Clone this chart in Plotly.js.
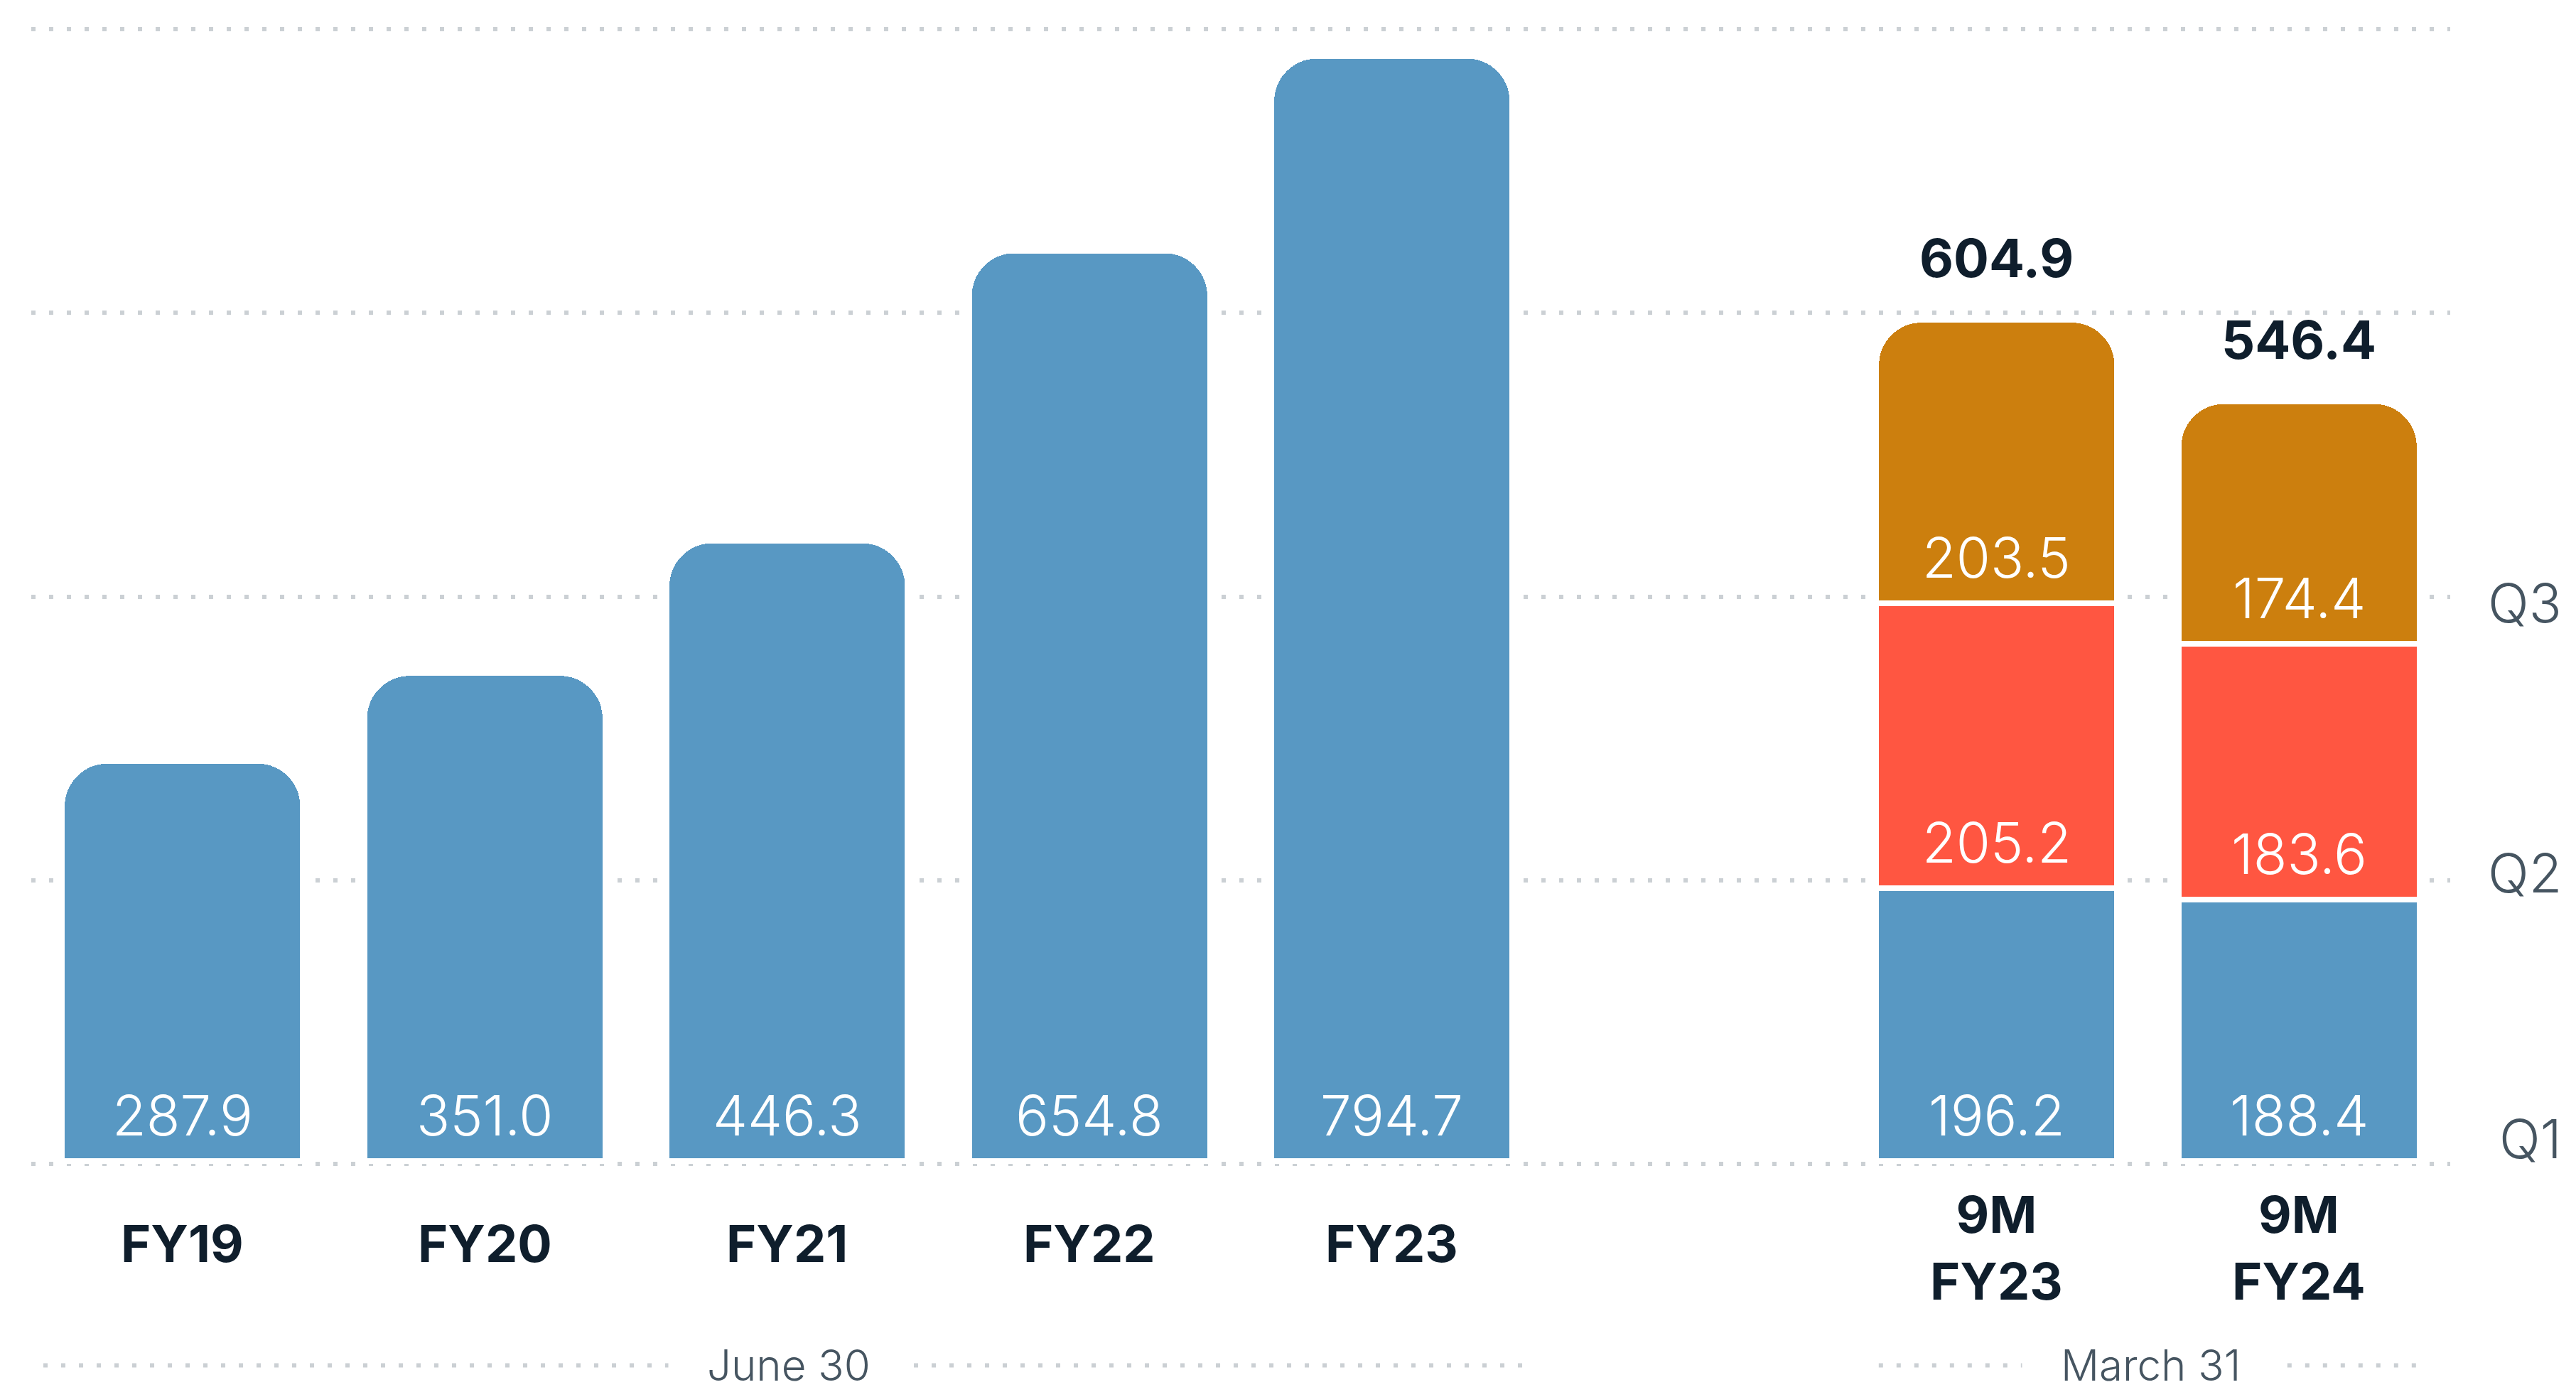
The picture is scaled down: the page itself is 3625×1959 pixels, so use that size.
<!DOCTYPE html>
<html>
<head>
<meta charset="utf-8">
<script src="https://cdn.plot.ly/plotly-3.0.1.min.js"></script>
<style>
  html, body { margin: 0; padding: 0; background: #ffffff; }
  #chart { width: 3625px; height: 1959px; }
</style>
</head>
<body>
<div id="chart"></div>
<script>
// ---------------- data ----------------
const fullYearCategories = ['FY19', 'FY20', 'FY21', 'FY22', 'FY23'];
const fullYearRevenue = [287.9, 351.0, 446.3, 654.8, 794.7];

const nineMonthCategories = ['9M FY23', '9M FY24'];
const nineMonthTickLabels = ['9M<br>FY23', '9M<br>FY24'];
const q1Revenue = [196.2, 188.4];
const q2Revenue = [205.2, 183.6];
const q3Revenue = [203.5, 174.4];

const quarterNames = ['Q1', 'Q2', 'Q3'];
const groupLabels = ['June 30', 'March 31'];

// ---------------- style ----------------
const BLUE = '#5898C3';
const RED = '#FF5641';
const ORANGE = '#CC7F0E';
const DARK = '#0F1E2C';
const GREY_TEXT = '#465561';
const DOT = '#CBD0D4';
const FONT = 'Inter, "Open Sans", sans-serif';

const SPACER = '\u00A0';
const categoryOrder = [...fullYearCategories, SPACER, ...nineMonthCategories];
const idx = c => categoryOrder.indexOf(c);

const BAR_W = 0.797;
const SEP = 8;

function barTrace(x, y, color) {
  return {
    type: 'bar',
    x: x,
    y: y,
    width: BAR_W,
    marker: { color: color, line: { color: '#ffffff', width: SEP } },
    hoverinfo: 'skip',
    cliponaxis: false
  };
}

const traces = [
  barTrace(fullYearCategories, fullYearRevenue, BLUE),
  barTrace(nineMonthCategories, q1Revenue, BLUE),
  barTrace(nineMonthCategories, q2Revenue, RED),
  barTrace(nineMonthCategories, q3Revenue, ORANGE)
];

const annotations = [];

// value labels at the bottom of each bar segment
const VALUE_FONT = { family: FONT, size: 78, color: '#ffffff', weight: 300 };
function valueLabel(cat, base, value) {
  annotations.push({
    x: idx(cat), xref: 'x', y: base, yref: 'y',
    text: value.toFixed(1), showarrow: false,
    xanchor: 'center', yanchor: 'bottom', yshift: 15,
    font: VALUE_FONT
  });
}
fullYearCategories.forEach((c, i) => valueLabel(c, 0, fullYearRevenue[i]));
nineMonthCategories.forEach((c, i) => {
  valueLabel(c, 0, q1Revenue[i]);
  valueLabel(c, q1Revenue[i], q2Revenue[i]);
  valueLabel(c, q1Revenue[i] + q2Revenue[i], q3Revenue[i]);
});

// category labels under the bars
fullYearCategories.forEach(c => {
  annotations.push({
    x: idx(c), xref: 'x', y: -0.0587, yref: 'paper',
    text: c, showarrow: false, xanchor: 'center', yanchor: 'middle',
    font: { family: FONT, size: 72, color: DARK, weight: 700 }
  });
});
nineMonthCategories.forEach((c, i) => {
  annotations.push({
    x: idx(c), xref: 'x', y: -0.0625, yref: 'paper',
    text: nineMonthTickLabels[i], showarrow: false, xanchor: 'center', yanchor: 'middle',
    font: { family: FONT, size: 72, color: DARK, weight: 700 }
  });
});

// totals above the stacked bars
nineMonthCategories.forEach((c, i) => {
  const total = q1Revenue[i] + q2Revenue[i] + q3Revenue[i];
  annotations.push({
    x: idx(c), xref: 'x', y: total, yref: 'y',
    text: total.toFixed(1), showarrow: false, xanchor: 'center', yanchor: 'bottom',
    yshift: 40,
    font: { family: FONT, size: 74, color: DARK, weight: 700 }
  });
});

// quarter labels on the right
const quarterLabelY = [0.032, 0.2625, 0.4975];
quarterNames.forEach((q, i) => {
  annotations.push({
    x: 1.0467, xref: 'paper', y: quarterLabelY[i], yref: 'paper',
    text: q, showarrow: false, xanchor: 'right', yanchor: 'middle',
    font: { family: FONT, size: 76, color: GREY_TEXT, weight: 300 }
  });
});

// group brackets (dotted line with label)
const GROUP_Y = -0.165;
const groups = [
  { label: groupLabels[0], from: fullYearCategories[0], to: fullYearCategories[fullYearCategories.length - 1], padL: 0.46, padR: 0.47 },
  { label: groupLabels[1], from: nineMonthCategories[0], to: nineMonthCategories[nineMonthCategories.length - 1], padL: 0.39, padR: 0.41 }
];
const shapes = [];
groups.forEach(g => {
  const x0 = idx(g.from) - g.padL;
  const x1 = idx(g.to) + g.padR;
  shapes.push({
    type: 'line', xref: 'x', yref: 'paper',
    x0: x0, x1: x1, y0: GROUP_Y, y1: GROUP_Y,
    line: { color: DOT, width: 6, dash: '6px,19px' }
  });
  annotations.push({
    x: (x0 + x1) / 2, xref: 'x', y: GROUP_Y, yref: 'paper',
    text: g.label, showarrow: false, xanchor: 'center', yanchor: 'middle',
    bgcolor: '#ffffff', borderpad: 54,
    font: { family: FONT, size: 60, color: GREY_TEXT, weight: 300 }
  });
});

const layout = {
  width: 3625,
  height: 1959,
  margin: { l: 44, r: 177, t: 33, b: 305, pad: 0 },
  paper_bgcolor: '#ffffff',
  plot_bgcolor: '#ffffff',
  barmode: 'stack',
  barcornerradius: 64,
  showlegend: false,
  hovermode: false,
  font: { family: FONT },
  xaxis: {
    type: 'category',
    categoryorder: 'array',
    categoryarray: categoryOrder,
    range: [-0.5, 7.5],
    showticklabels: false,
    showgrid: false,
    zeroline: false,
    showline: false,
    ticks: ''
  },
  yaxis: {
    range: [-10, 818],
    tick0: -2,
    dtick: 204,
    showticklabels: false,
    showgrid: true,
    gridcolor: DOT,
    gridwidth: 6,
    griddash: '6px,19px',
    zeroline: false,
    showline: false,
    ticks: ''
  },
  shapes: shapes,
  annotations: annotations
};

Plotly.newPlot('chart', traces, layout, { displayModeBar: false, staticPlot: true });
</script>
</body>
</html>
